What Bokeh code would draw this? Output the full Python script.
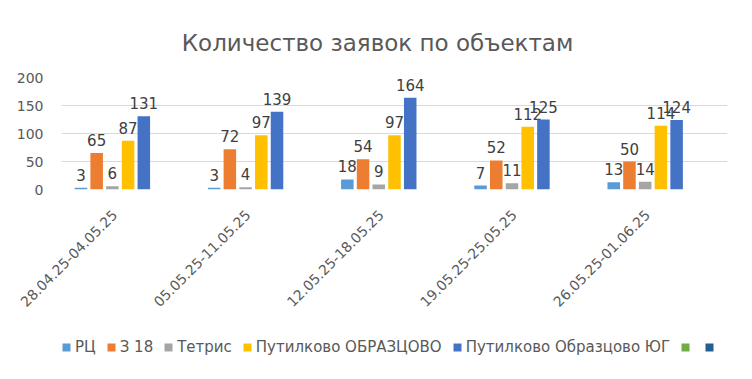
import math
from bokeh.plotting import figure
from bokeh.layouts import column
from bokeh.models import (Range1d, Legend, LegendItem, ColumnDataSource, Label,
                          FixedTicker, LinearAxis, LinearScale)
from bokeh.transform import dodge
from bokeh.core.properties import value
from bokeh.embed import file_html
from bokeh.resources import INLINE

# ---- data ----
categories = ["28.04.25-04.05.25", "05.05.25-11.05.25", "12.05.25-18.05.25",
              "19.05.25-25.05.25", "26.05.25-01.06.25"]
rc = [3, 3, 18, 7, 13]
z18 = [65, 72, 54, 52, 50]
tetris = [6, 4, 9, 11, 14]
putilkovo = [87, 97, 97, 112, 114]
putilkovo_yug = [131, 139, 164, 125, 124]
series_names = ["РЦ", "З 18", "Тетрис", "Путилково ОБРАЗЦОВО",
                "Путилково Образцово ЮГ", "", ""]
series_values = [rc, z18, tetris, putilkovo, putilkovo_yug, [], []]
colors = ["#5B9BD5", "#ED7D31", "#A5A5A5", "#FFC000", "#4472C4",
          "#70AD47", "#255E91"]
y_ticks = [0, 50, 100, 150, 200]
title_text = "Количество заявок по объектам"

FONT = "DejaVu Sans"
ncat = len(categories)
cat_pos = [i + 0.5 for i in range(ncat)]
LEFT, RIGHT = 61, 9


def strip(height):
    f = figure(width=736, height=height, output_backend="svg", toolbar_location=None,
               x_range=Range1d(0, 1), y_range=Range1d(0, 1),
               x_axis_location=None, y_axis_location=None,
               min_border_left=LEFT, min_border_right=RIGHT,
               min_border_top=0, min_border_bottom=0)
    f.outline_line_color = None
    f.xgrid.visible = False
    f.ygrid.visible = False
    return f


# ---- title strip ----
tf = strip(60)
tf.add_layout(Label(x=0.4745, y=0.3, text=title_text, text_align="center",
                    text_baseline="alphabetic", text_font=FONT,
                    text_font_size="23px", text_color="#595959"))

# ---- main chart ----
p = figure(width=736, height=270, output_backend="svg", toolbar_location=None,
           x_range=Range1d(0, ncat), y_range=Range1d(0, 200), x_axis_location=None,
           min_border_left=LEFT, min_border_right=RIGHT,
           min_border_top=17, min_border_bottom=141)
p.outline_line_color = None
p.background_fill_color = "white"
p.border_fill_color = "white"
p.xgrid.visible = False

step = 0.118
bar_w = 0.094
n = len(series_names)
for i, (vals, col) in enumerate(zip(series_values, colors)):
    off = (i - (n - 1) / 2) * step
    if not vals:
        continue
    src = ColumnDataSource(dict(xc=cat_pos[:len(vals)], v=vals,
                                lab=[str(v) for v in vals]))
    p.vbar(x=dodge("xc", off), top="v", width=bar_w,
           source=src, fill_color=col, line_color=None)
    p.text(x=dodge("xc", off), y="v", text="lab", source=src,
           text_align="center", text_baseline="alphabetic", y_offset=-13,
           text_font=value(FONT), text_font_size="15px", text_color="#404040")

# category axis on a helper range (labels aligned like the reference)
p.extra_x_ranges = {"lab": Range1d(0.1, ncat + 0.1)}
p.extra_x_scales = {"lab": LinearScale()}
xaxis = LinearAxis(x_range_name="lab", ticker=FixedTicker(ticks=cat_pos),
                   major_label_overrides={pos: c for pos, c in zip(cat_pos, categories)})
xaxis.axis_line_color = None
xaxis.major_tick_line_color = None
xaxis.minor_tick_line_color = None
xaxis.major_label_orientation = math.pi / 4
xaxis.major_label_standoff = 17
xaxis.major_label_text_font = FONT
xaxis.major_label_text_font_size = "14px"
xaxis.major_label_text_color = "#595959"
p.add_layout(xaxis, "below")

# y axis
p.yaxis.ticker = FixedTicker(ticks=y_ticks)
p.ygrid.ticker = FixedTicker(ticks=y_ticks)
p.ygrid.grid_line_color = "#D9D9D9"
p.yaxis.axis_line_color = None
p.yaxis.major_tick_line_color = None
p.yaxis.minor_tick_line_color = None
p.yaxis.major_label_standoff = 12
p.yaxis.major_label_text_font = FONT
p.yaxis.major_label_text_font_size = "14px"
p.yaxis.major_label_text_color = "#595959"

# ---- legend strip ----
lg = strip(33)
items = []
for name, col in zip(series_names, colors):
    # zero-size placeholder glyph: only its legend swatch is visible
    r = lg.vbar(x=[0], top=[0], bottom=[0], width=0, fill_color=col, line_color=None)
    items.append(LegendItem(label=name if name else " ", renderers=[r]))
legend = Legend(items=items, orientation="horizontal", location=(0, 7),
                glyph_width=10, glyph_height=10, label_standoff=4, spacing=10,
                label_width=0, padding=0, margin=0, border_line_color=None,
                background_fill_alpha=0,
                label_text_font=FONT, label_text_font_size="15px",
                label_text_color="#595959")
lg.add_layout(legend, "center")

layout = column(tf, p, lg, spacing=0)
open("out.html", "w").write(file_html(layout, INLINE))
